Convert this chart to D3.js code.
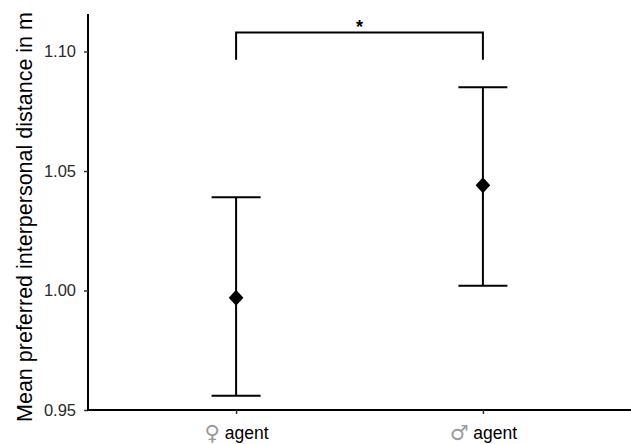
<!DOCTYPE html>
<html><head><meta charset="utf-8">
<script src="https://cdn.jsdelivr.net/npm/d3@7"></script>
<style>body{margin:0;background:#fff}svg{display:block}</style>
</head><body>
<script>
const categorySymbols = ["♀", "♂"];
const categoryNames = ["agent", "agent"];
const means = [0.997, 1.044];
const lower = [0.956, 1.002];
const upper = [1.039, 1.085];
const yTicks = [0.95, 1.00, 1.05, 1.10];
const sigLabel = "*";
const sigLevel = 1.108;
const sigDrop = 1.0965;

(function () {
const W = 631, H = 444;
const pLeft = 88, pRight = 631, pTop = 14, pBottom = 410;
const svg = d3.select("body").append("svg").attr("width", W).attr("height", H);

const x = d3.scaleLinear().domain([0.4, 2.6]).range([pLeft, pRight]);
const y = d3.scaleLinear().domain([0.95, 0.95 + (pBottom - pTop) / 119.5 * 0.05]).range([pBottom, pTop]);

const font = "Liberation Sans, Arial, sans-serif";

// y axis
const ya = svg.append("g").attr("transform", `translate(${pLeft},0)`)
  .call(d3.axisLeft(y).tickValues(yTicks).tickFormat(d3.format(".2f")).tickSize(4).tickSizeOuter(0));
ya.select(".domain").attr("stroke", "#000").attr("stroke-width", 2).attr("d", `M0,${pTop}V${pBottom + 1}`);
ya.selectAll(".tick line").attr("stroke", "#333").attr("stroke-width", 1.5);
ya.selectAll(".tick text").attr("font-family", font).attr("font-size", 16.5).attr("fill", "#2a2a2a").attr("x", -12);

// x axis
const xa = svg.append("g").attr("transform", `translate(0,${pBottom})`)
  .call(d3.axisBottom(x).tickValues([1, 2]).tickFormat("").tickSize(4).tickSizeOuter(0));
xa.select(".domain").attr("stroke", "#000").attr("stroke-width", 2).attr("d", `M${pLeft - 1},0H${pRight}`);
xa.selectAll(".tick line").attr("stroke", "#333").attr("stroke-width", 1.5);
xa.selectAll(".tick").each(function (d) {
  const t = d3.select(this).select("text")
    .attr("y", 29).attr("dy", null).attr("font-family", font).attr("font-size", 17.5).attr("fill", "#000");
  t.text(null);
  t.append("tspan").attr("font-family", "DejaVu Sans").attr("font-size", 21).attr("fill", "#999")
    .attr("dy", 1).text(categorySymbols[d - 1]);
  t.append("tspan").attr("dy", -1).text(" " + categoryNames[d - 1]);
});

// axis title
svg.append("text").attr("transform", `translate(32,${(pTop + pBottom) / 2 + 5}) rotate(-90)`)
  .attr("text-anchor", "middle").attr("font-family", font).attr("font-size", 21.5).attr("fill", "#000")
  .text("Mean preferred interpersonal distance in m");

// error bars
const cap = 24.5;
means.forEach((m, i) => {
  const cx = x(i + 1);
  const g = svg.append("g").attr("stroke", "#000").attr("stroke-width", 2).attr("fill", "none");
  g.append("line").attr("x1", cx).attr("x2", cx).attr("y1", y(lower[i])).attr("y2", y(upper[i]));
  g.append("line").attr("x1", cx - cap).attr("x2", cx + cap).attr("y1", y(lower[i])).attr("y2", y(lower[i]));
  g.append("line").attr("x1", cx - cap).attr("x2", cx + cap).attr("y1", y(upper[i])).attr("y2", y(upper[i]));
  const cy = y(m), rx = 7.3, ry = 8;
  svg.append("path").attr("d", `M${cx},${cy - ry}L${cx + rx},${cy}L${cx},${cy + ry}L${cx - rx},${cy}Z`).attr("fill", "#000");
});

// significance bracket
const x1 = x(1), x2 = x(2);
svg.append("path").attr("fill", "none").attr("stroke", "#000").attr("stroke-width", 2)
  .attr("d", `M${x1},${y(sigDrop)}V${y(sigLevel)}H${x2}V${y(sigDrop)}`);
svg.append("text").attr("x", (x1 + x2) / 2).attr("y", y(sigLevel) + 1).attr("text-anchor", "middle")
  .attr("font-family", font).attr("font-size", 18).attr("font-weight", "bold").text(sigLabel);
})();
</script>
</body></html>
